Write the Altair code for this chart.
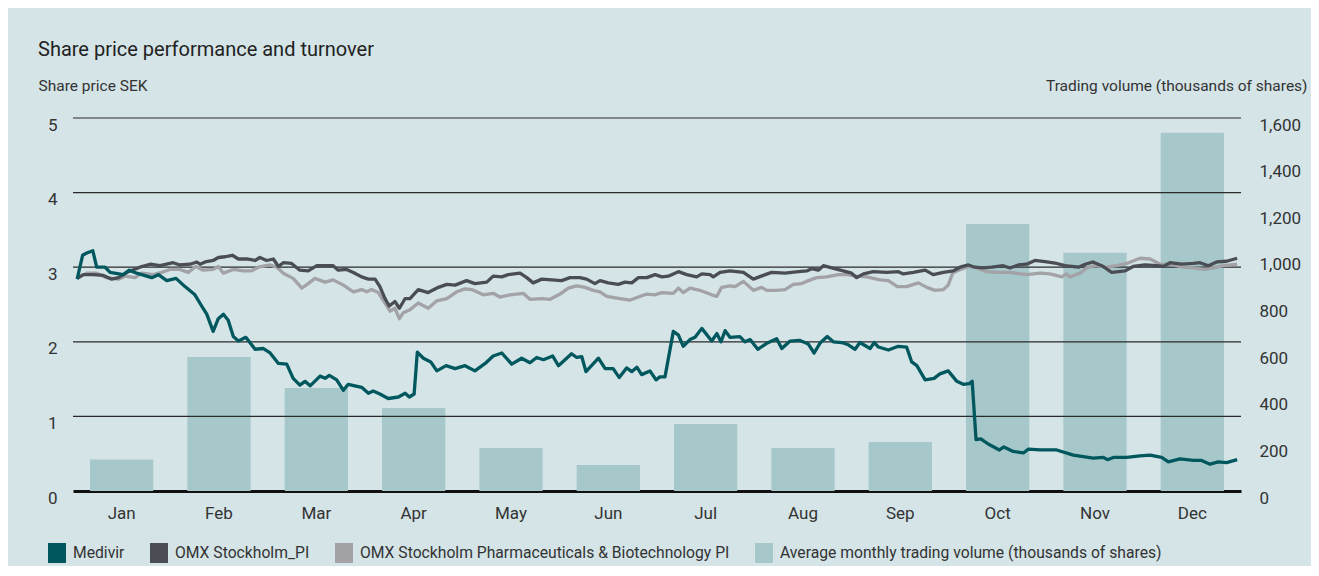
import altair as alt
import pandas as pd

months = ["Jan", "Feb", "Mar", "Apr", "May", "Jun", "Jul", "Aug", "Sep", "Oct", "Nov", "Dec"]
volume = [135, 575, 442, 356, 184, 112, 287, 184, 210, 1145, 1022, 1537]

# [day of year, share price / index level]
medivir = [[1.3, 2.84], [3.0, 3.16], [4.3, 3.19], [6.2, 3.22], [7.4, 3.00], [10.0, 3.00], [11.6, 2.93], [15.7, 2.90], [17.6, 2.96], [19.9, 2.92], [24.6, 2.86], [26.7, 2.90], [29.3, 2.82], [32.2, 2.85], [35.0, 2.74], [38.1, 2.63], [40.2, 2.48], [41.8, 2.37], [43.8, 2.14], [45.4, 2.31], [47.0, 2.37], [48.5, 2.29], [50.1, 2.07], [51.7, 2.01], [54.0, 2.06], [56.9, 1.90], [59.5, 1.91], [61.6, 1.85], [64.2, 1.71], [66.8, 1.70], [68.8, 1.51], [70.9, 1.42], [72.5, 1.47], [74.1, 1.41], [77.2, 1.54], [78.8, 1.51], [80.1, 1.55], [82.4, 1.49], [84.5, 1.35], [86.0, 1.43], [90.2, 1.39], [92.3, 1.31], [93.8, 1.34], [95.9, 1.30], [98.5, 1.24], [101.7, 1.26], [103.8, 1.31], [105.1, 1.26], [106.6, 1.30], [107.6, 1.86], [109.5, 1.78], [111.8, 1.73], [113.7, 1.61], [116.6, 1.68], [119.4, 1.64], [122.5, 1.68], [125.6, 1.61], [128.8, 1.71], [131.3, 1.81], [134.0, 1.85], [137.1, 1.70], [140.2, 1.78], [142.8, 1.72], [144.9, 1.79], [147.0, 1.76], [149.9, 1.81], [151.7, 1.68], [155.8, 1.84], [157.4, 1.79], [159.0, 1.80], [160.3, 1.60], [164.2, 1.78], [166.3, 1.64], [168.8, 1.64], [170.7, 1.52], [173.0, 1.65], [174.6, 1.60], [176.2, 1.66], [177.7, 1.56], [180.3, 1.61], [182.2, 1.49], [183.4, 1.53], [185.0, 1.53], [187.6, 2.14], [189.2, 2.09], [190.7, 1.94], [192.8, 2.03], [194.4, 2.06], [196.5, 2.18], [199.6, 2.01], [201.2, 2.11], [202.5, 2.00], [203.8, 2.15], [205.3, 2.06], [208.4, 2.07], [210.0, 2.00], [211.6, 2.03], [214.0, 1.90], [216.8, 1.98], [219.9, 2.04], [221.5, 1.91], [224.1, 2.01], [227.0, 2.02], [229.8, 1.97], [231.6, 1.85], [233.4, 1.98], [235.7, 2.07], [237.6, 2.00], [240.2, 1.99], [242.3, 1.96], [244.4, 1.90], [245.9, 1.99], [249.1, 1.91], [250.4, 1.99], [251.7, 1.93], [254.8, 1.89], [257.9, 1.94], [260.5, 1.93], [262.1, 1.73], [263.7, 1.68], [266.3, 1.49], [269.1, 1.51], [270.9, 1.57], [273.5, 1.61], [276.2, 1.47], [278.2, 1.43], [280.1, 1.44], [281.0, 1.47], [282.2, 0.69], [283.7, 0.70], [286.0, 0.63], [289.5, 0.55], [290.9, 0.59], [293.8, 0.53], [297.0, 0.51], [298.5, 0.56], [302.2, 0.55], [307.4, 0.55], [312.6, 0.48], [318.8, 0.44], [322.0, 0.45], [323.3, 0.42], [325.1, 0.45], [329.3, 0.45], [333.4, 0.47], [336.6, 0.48], [340.2, 0.45], [342.3, 0.39], [345.9, 0.43], [350.1, 0.41], [352.7, 0.41], [355.3, 0.36], [357.9, 0.39], [360.5, 0.38], [363.8, 0.42]]

omx_pi = [[1.3, 2.85], [3.2, 2.90], [6.3, 2.90], [9.5, 2.89], [12.1, 2.84], [14.2, 2.86], [17.3, 2.94], [20.9, 3.00], [24.1, 3.04], [27.2, 3.02], [31.3, 3.06], [33.4, 3.03], [36.6, 3.04], [38.7, 3.07], [39.7, 3.04], [41.3, 3.07], [43.8, 3.09], [45.4, 3.13], [47.5, 3.14], [49.8, 3.16], [51.7, 3.11], [54.3, 3.11], [56.9, 3.09], [58.4, 3.13], [60.5, 3.09], [62.6, 3.11], [64.2, 3.01], [65.7, 3.06], [68.3, 3.05], [70.9, 2.96], [73.5, 2.95], [76.2, 3.02], [79.3, 3.02], [81.3, 3.02], [82.9, 2.96], [85.5, 2.97], [87.6, 2.93], [90.2, 2.87], [92.3, 2.84], [94.4, 2.84], [95.9, 2.74], [97.5, 2.58], [98.8, 2.48], [100.6, 2.54], [102.0, 2.45], [103.8, 2.58], [105.3, 2.58], [107.9, 2.70], [111.0, 2.66], [114.2, 2.73], [116.8, 2.77], [119.4, 2.76], [123.0, 2.82], [125.6, 2.78], [129.3, 2.80], [131.3, 2.88], [134.0, 2.87], [136.0, 2.90], [139.7, 2.92], [141.8, 2.86], [143.8, 2.79], [146.5, 2.84], [149.6, 2.83], [152.7, 2.82], [155.3, 2.86], [158.4, 2.86], [160.5, 2.84], [163.1, 2.78], [164.7, 2.82], [167.3, 2.79], [170.4, 2.77], [172.5, 2.80], [174.6, 2.79], [176.7, 2.86], [179.3, 2.86], [181.9, 2.90], [184.0, 2.87], [186.0, 2.88], [189.2, 2.94], [191.8, 2.90], [194.9, 2.87], [196.5, 2.91], [199.1, 2.90], [200.1, 2.87], [202.2, 2.93], [205.3, 2.95], [209.5, 2.93], [212.6, 2.84], [215.7, 2.89], [218.3, 2.93], [222.5, 2.92], [226.7, 2.94], [229.3, 2.95], [230.8, 2.98], [232.9, 2.96], [234.5, 3.02], [237.1, 2.99], [240.7, 2.95], [243.3, 2.92], [244.9, 2.86], [247.0, 2.91], [250.1, 2.94], [254.3, 2.93], [257.9, 2.94], [259.5, 2.91], [262.6, 2.93], [266.3, 2.96], [268.8, 2.90], [272.0, 2.93], [275.1, 2.95], [277.2, 3.00], [279.8, 3.03], [281.9, 3.00], [284.5, 2.99], [287.1, 3.00], [290.7, 3.02], [292.8, 2.99], [295.4, 3.03], [298.0, 3.04], [300.6, 3.09], [304.3, 3.07], [307.4, 3.05], [310.0, 3.02], [314.2, 3.00], [316.3, 3.04], [318.7, 3.07], [321.5, 3.02], [324.6, 2.93], [328.8, 2.95], [331.3, 3.01], [335.0, 3.03], [338.7, 3.02], [340.7, 3.01], [342.8, 3.06], [346.5, 3.04], [350.1, 3.05], [352.2, 3.06], [354.8, 3.02], [357.4, 3.07], [360.5, 3.08], [363.8, 3.12]]

omx_pharma = [[1.3, 2.85], [4.3, 2.92], [7.4, 2.92], [10.5, 2.86], [14.2, 2.84], [16.3, 2.88], [19.4, 2.86], [21.5, 2.92], [25.1, 2.90], [27.7, 2.93], [30.3, 2.97], [33.4, 2.97], [36.0, 2.93], [38.4, 3.01], [40.7, 2.96], [43.8, 2.97], [45.4, 3.01], [47.0, 2.92], [50.1, 2.97], [53.2, 2.95], [55.8, 2.95], [57.9, 3.00], [61.6, 3.03], [63.7, 3.00], [65.7, 2.92], [68.8, 2.85], [71.5, 2.72], [73.5, 2.78], [75.6, 2.85], [78.8, 2.80], [81.3, 2.83], [84.5, 2.76], [87.6, 2.67], [90.2, 2.70], [91.8, 2.67], [93.3, 2.70], [95.4, 2.66], [97.5, 2.52], [99.1, 2.41], [100.6, 2.45], [102.0, 2.31], [103.2, 2.39], [105.3, 2.43], [107.9, 2.52], [111.0, 2.45], [113.7, 2.55], [116.8, 2.58], [119.9, 2.67], [122.5, 2.71], [124.6, 2.70], [128.2, 2.63], [131.3, 2.65], [133.4, 2.60], [136.6, 2.63], [140.7, 2.65], [142.8, 2.57], [146.5, 2.58], [149.1, 2.57], [152.2, 2.64], [154.8, 2.72], [157.4, 2.75], [160.0, 2.73], [162.6, 2.69], [164.7, 2.67], [166.8, 2.61], [170.9, 2.58], [174.1, 2.56], [176.7, 2.60], [179.3, 2.64], [181.9, 2.63], [184.0, 2.66], [187.6, 2.65], [189.2, 2.72], [190.7, 2.66], [192.8, 2.72], [195.9, 2.69], [199.6, 2.63], [201.2, 2.61], [202.7, 2.73], [205.3, 2.75], [206.9, 2.74], [209.5, 2.81], [212.6, 2.69], [215.2, 2.73], [216.8, 2.69], [219.9, 2.69], [222.5, 2.70], [225.1, 2.77], [227.7, 2.78], [229.8, 2.82], [232.4, 2.86], [235.5, 2.87], [239.2, 2.90], [241.8, 2.90], [244.9, 2.88], [248.0, 2.87], [252.2, 2.83], [254.8, 2.82], [257.6, 2.74], [260.5, 2.74], [264.2, 2.79], [266.8, 2.73], [269.4, 2.69], [272.0, 2.70], [273.5, 2.76], [274.9, 2.92], [276.2, 2.95], [279.8, 3.01], [282.4, 2.99], [285.5, 2.94], [288.7, 2.93], [292.8, 2.93], [298.0, 2.90], [302.2, 2.92], [305.3, 2.91], [309.0, 2.87], [310.5, 2.91], [311.6, 2.87], [314.7, 2.92], [316.8, 2.99], [319.4, 3.02], [323.0, 3.00], [326.2, 3.02], [329.3, 3.05], [333.4, 3.12], [336.6, 3.11], [339.7, 3.04], [343.8, 3.03], [346.9, 3.00], [350.1, 2.99], [353.8, 2.97], [356.4, 2.99], [359.5, 3.02], [363.8, 3.04]]

grid_levels = [1, 2, 3, 4, 5]
price_ticks = [0, 1, 2, 3, 4, 5]
volume_ticks = [0, 200, 400, 600, 800, 1000, 1200, 1400, 1600]

series_names = [
    "Medivir",
    "OMX Stockholm_PI",
    "OMX Stockholm Pharmaceuticals & Biotechnology PI",
    "Average monthly trading volume (thousands of shares)",
]
series_colors = ["#00585e", "#4b4d55", "#a2a2a7", "#a7c8ca"]

FONT = "Roboto"
TEXT = "#333333"

bars_df = pd.DataFrame({"month": months, "volume": volume, "series": series_names[3]})
rows = []
for name, pts in [(series_names[0], medivir), (series_names[1], omx_pi), (series_names[2], omx_pharma)]:
    for d, v in pts:
        rows.append({"day": d, "price": v, "series": name})
lines_df = pd.DataFrame(rows)
grid_df = pd.DataFrame({"level": grid_levels})

legend = alt.Legend(
    title=None, orient="none", direction="horizontal", legendX=-26, legendY=425,
    symbolType="M-0.9,-1H0.9V1H-0.9Z", symbolSize=400, symbolStrokeWidth=0,
    symbolOpacity=1, labelFont=FONT, labelFontSize=15.7, labelColor=TEXT,
    labelOffset=6, columnPadding=24, labelLimit=600,
)
color = alt.Color("series:N", scale=alt.Scale(domain=series_names, range=series_colors), legend=legend)

bars = alt.Chart(bars_df).mark_bar(opacity=1).encode(
    x=alt.X("month:N", sort=months,
            scale=alt.Scale(paddingInner=0.35, paddingOuter=0.175),
            axis=alt.Axis(title=None, labelAngle=0, ticks=False, grid=False,
                          domainColor="#111111", domainWidth=3,
                          labelFont=FONT, labelFontSize=17, labelColor=TEXT, labelPadding=14)),
    y=alt.Y("volume:Q", scale=alt.Scale(domain=[0, 1600], nice=False),
            axis=alt.Axis(orient="right", values=volume_ticks, format=",.0f",
                          grid=False, ticks=False, domain=False,
                          labelFont=FONT, labelFontSize=17, labelColor=TEXT,
                          labelPadding=18, labelOffset=7,
                          title="Trading volume (thousands of shares)", titleAngle=0,
                          titleX=66, titleY=-33, titleAlign="right", titleBaseline="middle",
                          titleFont=FONT, titleFontSize=15.5, titleFontWeight="normal", titleColor=TEXT)),
    color=color,
)

yscale = alt.Scale(domain=[0, 5], nice=False)
xscale = alt.Scale(domain=[0, 365], nice=False, zero=False)

grid = alt.Chart(grid_df).mark_rule(color="#2a2a2a", strokeWidth=1.2).encode(
    y=alt.Y("level:Q", scale=yscale,
            axis=alt.Axis(orient="left", values=price_ticks, format=".0f", grid=False, ticks=False,
                          domain=False, labelFont=FONT, labelFontSize=17, labelColor=TEXT,
                          labelPadding=16, labelOffset=7,
                          title="Share price SEK", titleAngle=0, titleX=-35, titleY=-33,
                          titleAlign="left", titleBaseline="middle",
                          titleFont=FONT, titleFontSize=15.5, titleFontWeight="normal", titleColor=TEXT)),
)

def line_layer(name):
    return alt.Chart(lines_df).transform_filter(alt.datum.series == name).mark_line(
        strokeWidth=3.3, strokeJoin="round"
    ).encode(
        x=alt.X("day:Q", scale=xscale, axis=None),
        y=alt.Y("price:Q", scale=yscale),
        color=color,
    )

inner = alt.layer(grid, line_layer(series_names[2]), line_layer(series_names[1]), line_layer(series_names[0]))

chart = alt.layer(bars, inner).resolve_scale(x="independent", y="independent").properties(
    width=1168, height=373,
    title=alt.TitleParams("Share price performance and turnover", anchor="start", dx=0,
                          fontSize=20, font=FONT, fontWeight="normal", color="#222222", offset=18),
    autosize="none",
    padding={"left": 65, "top": 110, "right": 70, "bottom": 75},
).configure(background="#d4e4e7").configure_view(stroke=None)

chart.save("out.html", embed_options={"renderer": "svg", "actions": False})
